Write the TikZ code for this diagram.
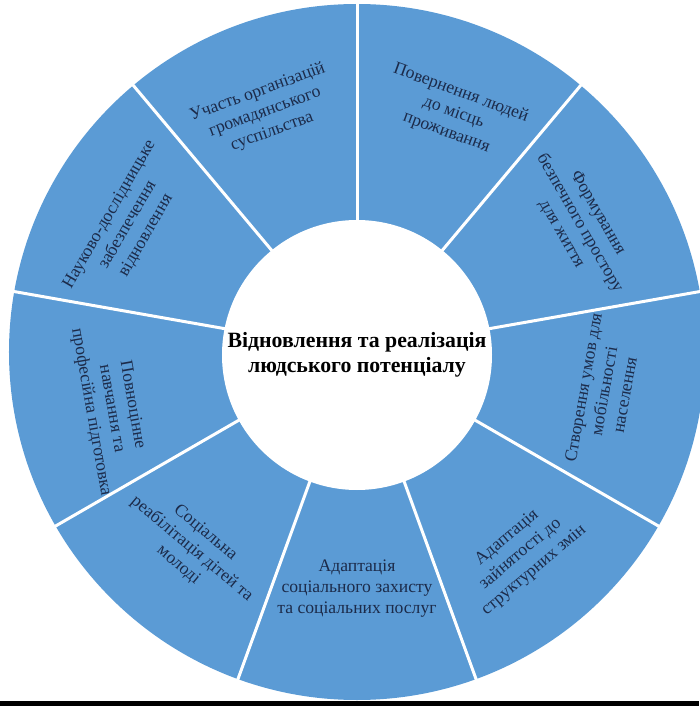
\documentclass[tikz,border=0pt]{standalone}
\usepackage{fontspec}
\setmainfont{Liberation Serif}
\definecolor{ringblue}{HTML}{5B9BD5}
\definecolor{labelblue}{HTML}{1C2B4A}

\begin{document}
\begin{tikzpicture}[x=1pt,y=1pt] % Кільце напрямів
\tikzstyle{sector} = [align=center, text=labelblue, font=\fontsize{17.6}{21}\selectfont] % sector label style
\tikzstyle{hub} = [circle, fill=white, minimum size=270pt, inner sep=0pt, align=center, font=\bfseries\fontsize{21.8}{25}\selectfont] % centre circle style
\tikzstyle{divider} = [white, line width=3pt] % лінії між секторами

\useasboundingbox (-357,-354) rectangle (342,352);
%
\fill[ringblue] (0,0) circle (348);
\foreach \a in {90,50,...,-230}
	\draw[divider] (\a:120) -- (\a:352);
\node[hub] (C) at (0,-3) {Відновлення та реалізація\\людського потенціалу};
%
\node[sector, rotate=20] (Civil) at (111:257) {Участь організацій\\громадянського\\суспільства};
\node[sector, rotate=-20] (Return) at (68:258) {Повернення людей\\до місць\\проживання};
\node[sector, rotate=-60] (Safe) at (30:257) {Формування\\безпечного простору\\для життя};
\node[sector, rotate=80] (Mobile) at (-9:250) {Створення умов для\\мобільності\\населення};
\node[sector, rotate=40] (Jobs) at (-51:260) {Адаптація\\зайнятості до\\структурних змін};
\node[sector] (Social) at (-90:237) {Адаптація\\соціального захисту\\та соціальних послуг};
\node[sector, rotate=-40] (Rehab) at (-130:257) {Соціальна\\реабілітація дітей та\\молоді};
\node[sector, rotate=-80] (Study) at (-167:252) {Повноцінне\\навчання та\\професійна підготовка};
\node[sector, rotate=60] (Science) at (151:262) {Науково-дослідницьке\\забезпечення\\відновлення};
%
\fill[black] (-357,-354) rectangle (342,-349);
\end{tikzpicture}
\end{document}
